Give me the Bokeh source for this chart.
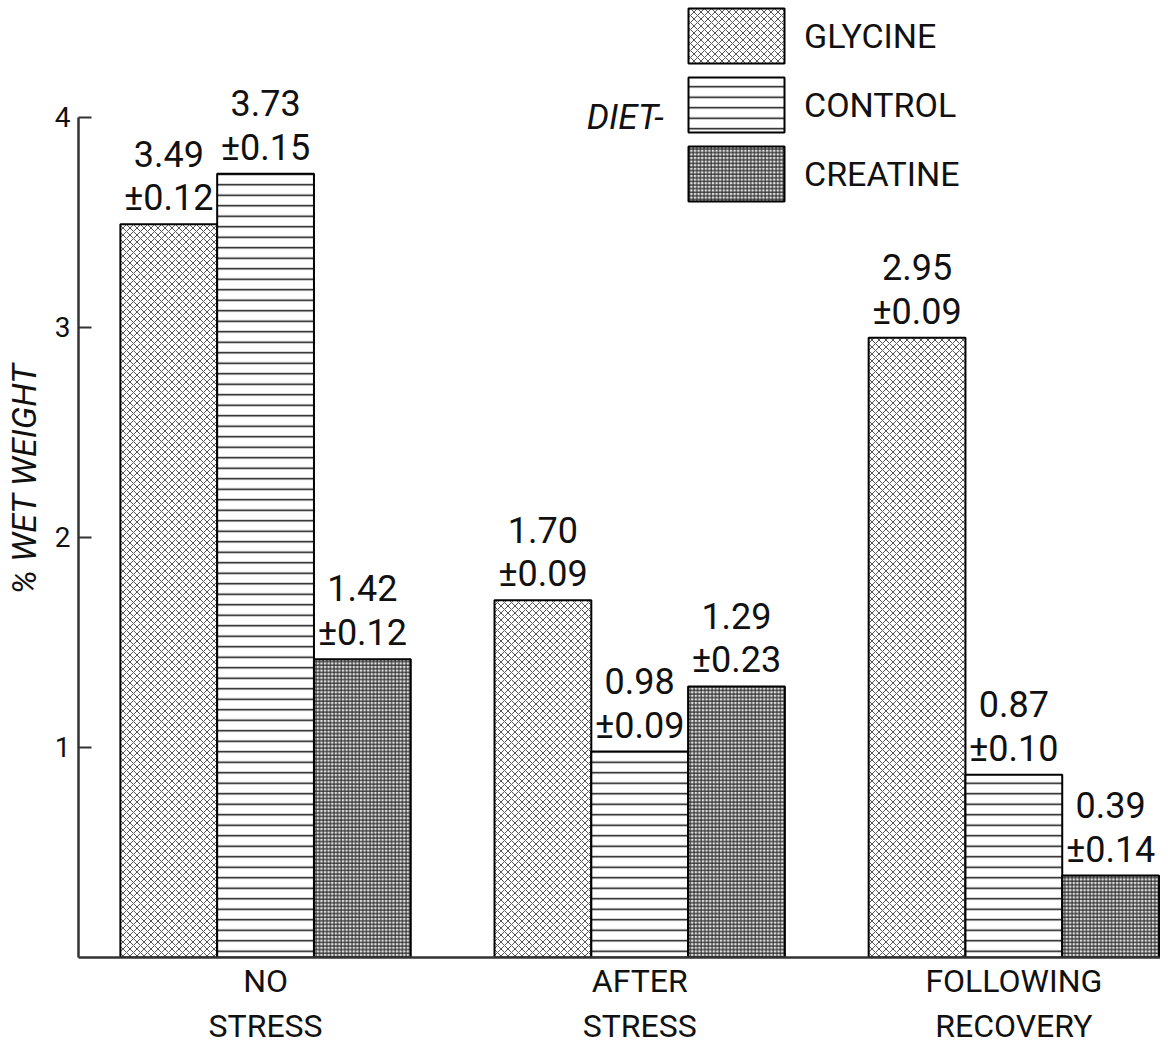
from bokeh.plotting import figure
from bokeh.models import ColumnDataSource, FixedTicker, Legend, LegendItem, Label, Range1d
from bokeh.core.properties import value
from bokeh.embed import file_html
from bokeh.resources import INLINE

# ---- data ----
conditions = ["NO\nSTRESS", "AFTER\nSTRESS", "FOLLOWING\nRECOVERY"]
diets = ["GLYCINE", "CONTROL", "CREATINE"]
glycine = [3.49, 1.70, 2.95]
glycine_se = [0.12, 0.09, 0.09]
control = [3.73, 0.98, 0.87]
control_se = [0.15, 0.09, 0.10]
creatine = [1.42, 1.29, 0.39]
creatine_se = [0.12, 0.23, 0.14]
y_ticks = [1, 2, 3, 4]
y_tick_labels = ["1", "2", "3", "4"]

FONT = "Roboto"
BAR_W = 0.2587

p = figure(width=1160, height=1048, output_backend="svg", toolbar_location=None,
           x_range=Range1d(-0.5, 2.392), y_range=Range1d(0, 4.555),
           min_border_left=76, min_border_right=0, min_border_top=0, min_border_bottom=80)
p.outline_line_color = None
p.xgrid.grid_line_color = None
p.ygrid.grid_line_color = None
p.background_fill_color = "white"
p.border_fill_color = "white"

xs = list(range(len(conditions)))
series = [
    (glycine, glycine_se, -BAR_W, dict(fill_color="white", hatch_pattern="diagonal_cross",
                                       hatch_scale=7, hatch_weight=1, hatch_color="#555555")),
    (control, control_se, 0.0, dict(fill_color="white", hatch_pattern="horizontal_line",
                                    hatch_scale=10.5, hatch_weight=1.5, hatch_color="#111111")),
    (creatine, creatine_se, BAR_W, dict(fill_color="#dddddd", hatch_pattern="cross",
                                        hatch_scale=3.6, hatch_weight=1, hatch_color="#222222")),
]

renderers = []
for vals, ses, off, style in series:
    src = ColumnDataSource(dict(
        x=[x + off for x in xs],
        top=vals,
        label=[f"{v:.2f}\n\u00b1{s:.2f}" for v, s in zip(vals, ses)],
    ))
    r = p.vbar(x="x", top="top", bottom=0, width=BAR_W, source=src,
               line_color="black", line_width=2, **style)
    renderers.append(r)
    p.text(x="x", y="top", text="label", source=src,
           text_font=value(FONT), text_font_size="36px", text_color="#111111",
           text_align="center", text_baseline="bottom", y_offset=-5,
           text_line_height=1.04)

# y axis
p.yaxis.ticker = FixedTicker(ticks=y_ticks)
p.yaxis.major_label_overrides = {t: l for t, l in zip(y_ticks, y_tick_labels)}
p.yaxis.bounds = (0, 4)
p.yaxis.minor_tick_line_color = None
p.yaxis.major_tick_in = 13
p.yaxis.major_tick_out = 0
p.yaxis.major_tick_line_width = 2
p.yaxis.major_tick_line_color = "#333333"
p.yaxis.axis_line_width = 2.5
p.yaxis.axis_line_color = "#333333"
p.yaxis.major_label_standoff = 8
p.yaxis.major_label_text_font = FONT
p.yaxis.major_label_text_font_size = "28px"
p.yaxis.major_label_text_color = "#111111"
p.yaxis.axis_label = "% WET WEIGHT"
p.yaxis.axis_label_text_font = FONT
p.yaxis.axis_label_text_font_style = "italic"
p.yaxis.axis_label_text_font_size = "34px"
p.yaxis.axis_label_text_color = "#111111"
p.yaxis.axis_label_standoff = 8

# x axis
p.xaxis.ticker = FixedTicker(ticks=xs)
p.xaxis.major_label_overrides = {x: c for x, c in zip(xs, conditions)}
p.xaxis.minor_tick_line_color = None
p.xaxis.major_tick_line_color = None
p.xaxis.axis_line_width = 2.5
p.xaxis.axis_line_color = "#333333"
p.xaxis.major_label_standoff = -2
p.xaxis.major_label_text_font = FONT
p.xaxis.major_label_text_font_size = "32px"
p.xaxis.major_label_text_color = "#111111"

legend = Legend(
    items=[LegendItem(label=d, renderers=[r]) for d, r in zip(diets, renderers)],
    location=(598, 749), orientation="vertical",
    glyph_width=120, glyph_height=69, spacing=0, padding=0, margin=0,
    label_standoff=8, label_height=20,
    label_text_font=FONT, label_text_font_size="34px", label_text_color="#111111",
    label_text_baseline="middle",
    border_line_color=None, background_fill_alpha=0,
)
p.add_layout(legend)

p.add_layout(Label(x=1.064, y=4.0, text="DIET-", text_font=FONT,
                   text_font_style="italic", text_font_size="35px",
                   text_color="#111111", text_align="right",
                   text_baseline="alphabetic"))

open("out.html", "w").write(file_html(p, INLINE))
